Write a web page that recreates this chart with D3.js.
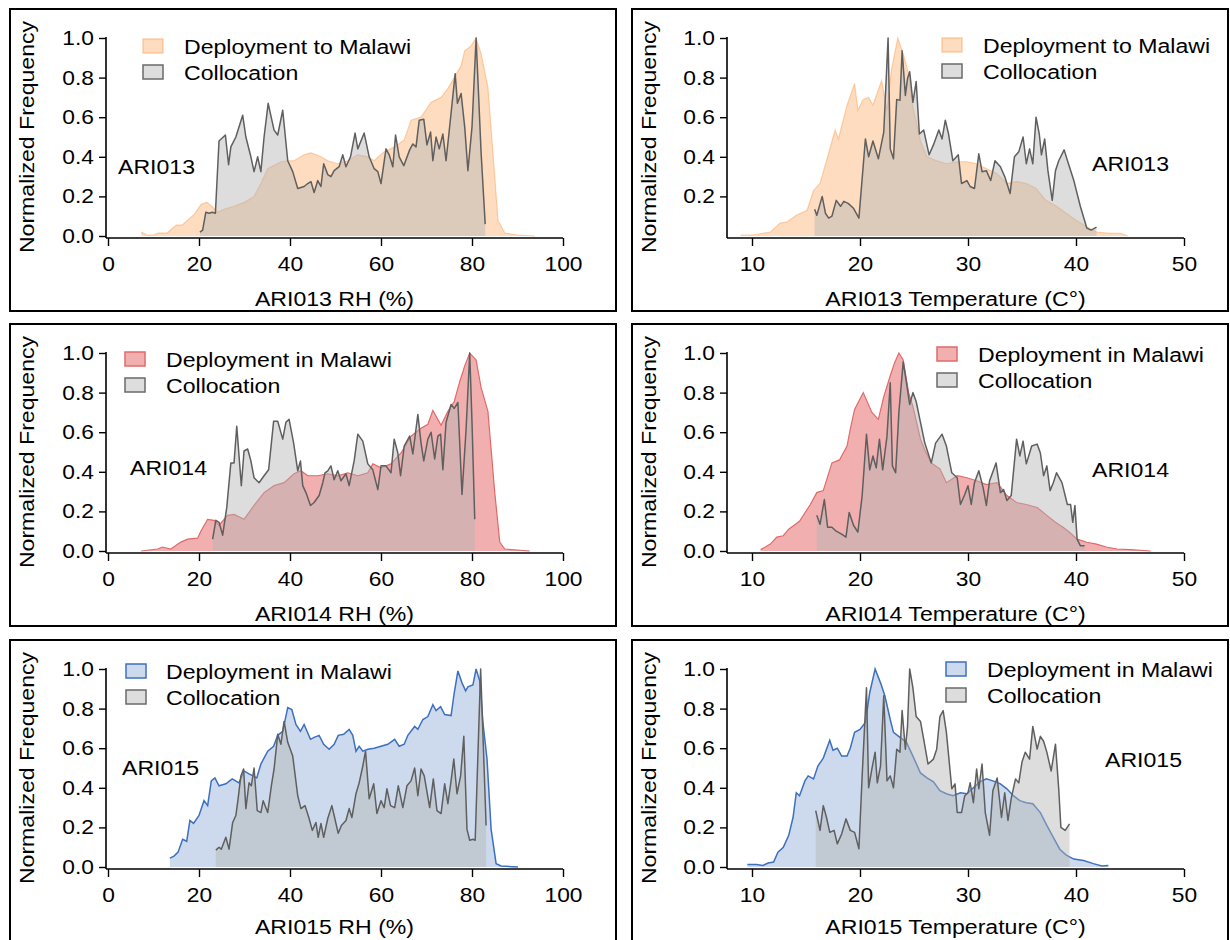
<!DOCTYPE html>
<html>
<head>
<meta charset="utf-8">
<script src="https://cdn.jsdelivr.net/npm/d3@7"></script>
<style>
  html, body { margin: 0; padding: 0; background: #fff; }
  svg text { font-family: "Liberation Sans", Arial, Helvetica, sans-serif; fill: #000; }
</style>
</head>
<body>
<svg id="chart" width="1230" height="940"></svg>
<script>
// ---- Axis ticks -----------------------------------------------------------
const rhTicks = [0, 20, 40, 60, 80, 100];
const tempTicks = [10, 20, 30, 40, 50];
const freqTicks = [0, 0.2, 0.4, 0.6, 0.8, 1.0];
const freqTicksNoZero = [0.2, 0.4, 0.6, 0.8, 1.0];

// ---- Normalized histograms: [value, normalized frequency] ----------------
// ARI013
const ari013RhDeploy = [[7.3,0.02],[8.5,0.005],[10,0.005],[11,0.015],[13,0.015],[15,0.055],[16.3,0.055],[17.5,0.08],[19,0.11],[20.5,0.16],[21.7,0.17],[22.8,0.15],[24.1,0.12],[25.5,0.135],[27.7,0.15],[30,0.17],[32.1,0.2],[33.6,0.265],[35.1,0.34],[38,0.375],[39.5,0.38],[40.9,0.38],[43.1,0.41],[44.6,0.42],[46.8,0.4],[48.3,0.38],[50.5,0.365],[52.7,0.38],[54.9,0.41],[57.1,0.4],[58.5,0.38],[60.7,0.425],[63,0.45],[65.1,0.485],[66.6,0.585],[68.8,0.6],[71,0.675],[73.2,0.7],[74.7,0.745],[76.1,0.8],[77.6,0.86],[78.4,0.935],[79.8,0.96],[80.9,1.0],[82,0.92],[83.5,0.75],[84.6,0.42],[85.7,0.08],[87.2,0.015],[90,0.005],[93.8,0.0]];
const ari013RhColloc = [[20.2,0.02],[20.8,0.03],[21.5,0.12],[22.2,0.115],[22.9,0.12],[23.6,0.115],[24.4,0.48],[25.8,0.51],[26.5,0.36],[27,0.45],[28.1,0.5],[29.6,0.61],[30.3,0.5],[31.4,0.4],[32.1,0.325],[32.9,0.4],[33.6,0.325],[34.3,0.5],[35.2,0.67],[36.5,0.535],[37.3,0.51],[38.4,0.635],[39.5,0.38],[40.6,0.325],[41.7,0.24],[43.1,0.25],[43.9,0.265],[44.6,0.275],[45.3,0.22],[46.1,0.28],[46.8,0.25],[47.4,0.365],[48.3,0.31],[49,0.3],[49.7,0.33],[50.8,0.35],[51.6,0.41],[52.3,0.35],[53.3,0.4],[54.3,0.52],[54.9,0.44],[56.3,0.52],[57.4,0.4],[58.5,0.34],[59.3,0.325],[60,0.265],[61.1,0.44],[61.8,0.41],[62.6,0.35],[63.2,0.51],[64,0.4],[65,0.355],[66.3,0.435],[67,0.465],[67.7,0.45],[68.4,0.585],[69.4,0.59],[70.1,0.46],[70.9,0.525],[71.4,0.38],[72.1,0.5],[72.8,0.44],[73.6,0.515],[74.3,0.38],[75.4,0.62],[76.3,0.82],[76.8,0.67],[77.6,0.72],[78.4,0.55],[79.1,0.33],[80,0.55],[80.9,1.0],[82,0.42],[82.9,0.06]];
const ari013TempDeploy = [[8.95,0.005],[10.1,0.005],[11.7,0.02],[12.6,0.065],[13.2,0.07],[14.1,0.105],[15.1,0.13],[15.7,0.23],[16.3,0.265],[16.9,0.38],[17.7,0.535],[18,0.49],[18.8,0.66],[19.5,0.77],[19.8,0.635],[20.3,0.69],[20.8,0.7],[21.2,0.66],[22,0.785],[22.5,0.635],[22.9,0.835],[23.5,1.0],[24,0.92],[24.5,0.82],[24.9,0.65],[25.6,0.48],[26.2,0.4],[27.1,0.38],[28,0.365],[29,0.375],[29.9,0.375],[30.8,0.365],[31.7,0.34],[32.7,0.315],[33.6,0.265],[34.5,0.275],[35.4,0.265],[36.3,0.24],[37.2,0.18],[38.2,0.15],[39.1,0.115],[40,0.08],[41,0.047],[41.9,0.02],[43.1,0.013],[44.1,0.013],[44.8,0.0]];
const ari013TempColloc = [[15.8,0.135],[16,0.105],[16.5,0.2],[16.8,0.115],[17.1,0.09],[17.4,0.1],[17.8,0.18],[18.2,0.15],[18.5,0.175],[18.9,0.165],[19.4,0.14],[19.9,0.09],[20.5,0.49],[20.8,0.4],[21.2,0.48],[21.7,0.39],[22.2,0.525],[22.6,1.0],[22.8,0.44],[23.1,0.39],[23.4,0.69],[23.7,0.685],[23.9,0.935],[24.2,0.71],[24.4,0.795],[24.6,0.83],[24.9,0.675],[25.2,0.78],[25.5,0.515],[25.9,0.535],[26.4,0.41],[26.8,0.46],[27.3,0.535],[27.6,0.49],[27.9,0.585],[28.2,0.515],[28.6,0.38],[29.1,0.41],[29.4,0.265],[29.9,0.28],[30.2,0.25],[30.6,0.24],[31,0.415],[31.3,0.325],[31.7,0.33],[32.1,0.28],[32.5,0.38],[33,0.35],[33.4,0.3],[33.9,0.215],[34.3,0.4],[34.7,0.425],[35.1,0.5],[35.4,0.365],[35.7,0.44],[36,0.365],[36.3,0.6],[36.6,0.515],[36.8,0.41],[37.1,0.49],[37.4,0.33],[37.8,0.18],[38.1,0.33],[38.4,0.38],[38.9,0.435],[39.3,0.365],[39.8,0.28],[40.4,0.15],[41,0.04],[41.4,0.03],[41.9,0.045]];

// ARI014
const ari014RhDeploy = [[7.3,0.0],[10.9,0.01],[12,0.02],[13.8,0.01],[16,0.045],[17.5,0.06],[19.7,0.065],[20.4,0.1],[21.9,0.16],[23.3,0.155],[24.4,0.13],[26.3,0.18],[27.7,0.185],[29.9,0.16],[32.1,0.23],[34.3,0.295],[36.5,0.33],[38.7,0.345],[40.9,0.39],[42.4,0.405],[43.9,0.38],[46.1,0.38],[48.3,0.39],[50.5,0.38],[52.7,0.395],[54.9,0.38],[57.1,0.395],[58.2,0.44],[60,0.42],[62.2,0.44],[64.4,0.495],[66.6,0.58],[68.8,0.62],[70.3,0.64],[71.4,0.71],[73.2,0.635],[74.7,0.705],[76.1,0.755],[77.3,0.855],[78.4,0.935],[79.5,1.0],[80.9,0.965],[82,0.825],[83.5,0.705],[85,0.295],[86.1,0.045],[87.2,0.01],[92.7,0.0]];
const ari014RhColloc = [[23,0.06],[23.7,0.155],[24.4,0.145],[25.2,0.08],[26.1,0.22],[27,0.445],[27.7,0.445],[28.3,0.63],[28.8,0.48],[29.3,0.33],[29.9,0.505],[30.7,0.515],[31.4,0.455],[32.1,0.37],[33.2,0.345],[34.3,0.38],[35.3,0.41],[36.4,0.655],[37.3,0.655],[38.4,0.565],[39.1,0.65],[39.8,0.665],[40.8,0.545],[41.7,0.405],[42.3,0.455],[42.8,0.33],[43.5,0.295],[44.5,0.23],[45.3,0.245],[46.4,0.28],[47.2,0.345],[47.7,0.395],[48.3,0.405],[49,0.43],[49.7,0.36],[50.5,0.405],[51.2,0.355],[52.3,0.39],[53,0.33],[54.1,0.455],[54.9,0.59],[56,0.555],[57.1,0.44],[58.2,0.41],[59.3,0.31],[60,0.43],[61.1,0.43],[62.2,0.395],[62.9,0.565],[63.7,0.495],[64.3,0.38],[65.1,0.53],[66.3,0.58],[67,0.49],[68.1,0.69],[68.8,0.545],[69.4,0.455],[70.3,0.565],[71,0.6],[71.8,0.465],[72.5,0.58],[73.1,0.59],[73.6,0.41],[74.3,0.65],[75.4,0.74],[76.1,0.72],[76.9,0.75],[77.8,0.285],[78.7,0.615],[79.5,1.0],[80,0.65],[80.6,0.16]];
const ari014TempDeploy = [[10.8,0.007],[11.7,0.035],[12.3,0.07],[12.9,0.077],[13.4,0.11],[14.4,0.15],[15.4,0.235],[16,0.295],[16.6,0.305],[17.4,0.445],[18.1,0.46],[18.8,0.53],[19.1,0.615],[19.5,0.715],[20.3,0.8],[21.1,0.7],[21.7,0.665],[22.2,0.78],[22.8,0.885],[23.2,0.95],[23.6,1.0],[24,0.965],[24.5,0.8],[24.9,0.73],[25.6,0.565],[26,0.51],[26.6,0.445],[27.4,0.415],[28,0.345],[29,0.38],[29.9,0.37],[30.8,0.355],[31.7,0.335],[32.7,0.345],[33.6,0.28],[34.5,0.245],[35.4,0.235],[36.4,0.22],[37.3,0.18],[38.1,0.145],[38.8,0.12],[39.4,0.095],[40.1,0.06],[41,0.044],[41.9,0.035],[42.8,0.02],[43.8,0.01],[45,0.007],[46.9,0.0]];
const ari014TempColloc = [[16,0.18],[16.3,0.135],[16.7,0.26],[17,0.12],[17.4,0.12],[17.8,0.1],[18.3,0.085],[18.7,0.07],[19,0.195],[19.4,0.13],[19.8,0.095],[20.2,0.28],[20.6,0.59],[20.9,0.41],[21.2,0.48],[21.5,0.42],[21.8,0.565],[22.1,0.41],[22.5,0.58],[22.8,0.85],[23,0.43],[23.3,0.395],[23.6,0.7],[24,0.955],[24.3,0.85],[24.6,0.74],[24.9,0.8],[25.2,0.755],[25.6,0.65],[26,0.545],[26.6,0.445],[27,0.545],[27.6,0.59],[28,0.53],[28.5,0.395],[29,0.37],[29.3,0.235],[29.7,0.285],[30,0.33],[30.3,0.235],[30.6,0.345],[31,0.405],[31.4,0.32],[31.7,0.23],[32,0.355],[32.6,0.445],[33,0.295],[33.3,0.31],[33.6,0.255],[34,0.28],[34.5,0.565],[34.8,0.48],[35.1,0.555],[35.4,0.44],[35.9,0.53],[36.4,0.54],[36.7,0.495],[37,0.38],[37.3,0.43],[37.6,0.305],[37.9,0.345],[38.2,0.395],[38.7,0.345],[39.2,0.235],[39.5,0.235],[39.7,0.145],[39.9,0.23],[40.1,0.06],[40.4,0.027],[40.8,0.027]];

// ARI015
const ari015RhDeploy = [[13.6,0.045],[14.5,0.055],[15.4,0.075],[16.4,0.14],[17.3,0.13],[18,0.235],[18.8,0.22],[20,0.26],[21.1,0.335],[21.9,0.31],[22.7,0.435],[23.5,0.45],[24.4,0.41],[25.9,0.42],[27.3,0.445],[28.8,0.425],[29.9,0.485],[31,0.47],[32.7,0.45],[33.6,0.52],[35.1,0.585],[36.4,0.61],[37.3,0.665],[38.4,0.685],[39.5,0.805],[40.4,0.795],[41.3,0.72],[42.3,0.685],[43.1,0.72],[44.5,0.645],[45.3,0.655],[46.4,0.665],[47.4,0.62],[48.6,0.595],[49.7,0.62],[50.6,0.665],[51.8,0.67],[53,0.695],[53.8,0.665],[54.5,0.585],[55.2,0.61],[56,0.585],[57.1,0.595],[58.5,0.6],[60,0.61],[61.5,0.62],[63,0.645],[64,0.61],[65.1,0.62],[65.9,0.665],[67.4,0.71],[68.1,0.695],[69.2,0.745],[70.3,0.76],[71.4,0.82],[72.1,0.79],[73.1,0.81],[74,0.77],[75.4,0.765],[76.1,0.88],[76.9,0.99],[77.8,0.93],[78.6,0.89],[79.1,0.91],[80.2,0.92],[80.9,1.0],[81.7,0.94],[82.4,0.73],[83.3,0.545],[84.2,0.19],[85.3,0.017],[86.4,0.005],[90.1,0.0]];
const ari015RhColloc = [[23.7,0.085],[24.4,0.1],[24.9,0.09],[25.9,0.15],[26.6,0.09],[27.4,0.225],[28.1,0.26],[28.6,0.345],[29.2,0.46],[29.8,0.495],[30.3,0.295],[31,0.425],[31.5,0.41],[32.1,0.5],[32.8,0.285],[33.6,0.275],[34.1,0.335],[35.1,0.275],[35.9,0.41],[36.5,0.495],[37.3,0.67],[38,0.62],[38.7,0.735],[39.5,0.63],[40.6,0.56],[41.7,0.36],[42.4,0.295],[43.3,0.31],[44.2,0.245],[44.9,0.185],[45.7,0.225],[46.2,0.15],[46.8,0.22],[47.4,0.15],[48.3,0.245],[49.2,0.31],[49.7,0.26],[50.6,0.17],[51.3,0.21],[52.3,0.235],[53,0.295],[53.6,0.25],[54.5,0.37],[55.2,0.425],[56,0.51],[56.6,0.585],[57.4,0.345],[58.4,0.42],[59.1,0.27],[60,0.335],[60.7,0.3],[61.3,0.395],[62.1,0.31],[63,0.3],[63.8,0.41],[64.8,0.3],[65.7,0.41],[66.6,0.435],[67.4,0.5],[68.1,0.36],[68.8,0.495],[69.5,0.46],[70.7,0.3],[71.5,0.445],[72.3,0.285],[73.2,0.27],[74,0.42],[74.7,0.32],[75.4,0.435],[76,0.545],[76.7,0.37],[77.5,0.46],[78.2,0.66],[78.9,0.19],[79.5,0.135],[80.2,0.14],[80.7,0.135],[81.9,1.0],[83.1,0.21]];
const ari015TempDeploy = [[9.57,0.012],[10.4,0.012],[11,0.008],[11.5,0.02],[12,0.025],[12.4,0.075],[12.9,0.1],[13.4,0.16],[13.8,0.25],[14.1,0.375],[14.4,0.36],[14.9,0.435],[15.2,0.46],[15.7,0.445],[16.1,0.51],[16.6,0.55],[17.2,0.64],[17.5,0.59],[17.9,0.6],[18.3,0.56],[18.8,0.56],[19.1,0.6],[19.5,0.68],[20,0.695],[20.5,0.73],[20.9,0.88],[21.4,1.0],[21.9,0.93],[22.3,0.865],[22.8,0.745],[23.1,0.68],[23.7,0.655],[24.3,0.63],[24.9,0.56],[25.6,0.475],[26.2,0.45],[26.8,0.43],[27.4,0.385],[28,0.37],[28.6,0.36],[29.3,0.375],[29.9,0.37],[30.5,0.4],[31.1,0.43],[31.7,0.445],[32.3,0.435],[33,0.42],[33.6,0.395],[34.2,0.36],[34.8,0.335],[35.4,0.325],[36,0.32],[36.7,0.275],[37.3,0.21],[37.9,0.15],[38.5,0.09],[39.1,0.06],[39.8,0.04],[40.7,0.033],[41.6,0.017],[42.4,0.005],[43,0.008]];
const ari015TempColloc = [[15.9,0.285],[16.3,0.185],[16.6,0.31],[16.9,0.25],[17.2,0.175],[17.6,0.185],[17.9,0.117],[18.3,0.167],[18.7,0.243],[19.1,0.185],[19.5,0.175],[19.9,0.092],[20.2,0.46],[20.6,0.905],[20.8,0.4],[21.1,0.495],[21.4,0.58],[21.6,0.425],[21.9,0.51],[22.2,0.865],[22.5,0.435],[22.8,0.46],[23.1,0.4],[23.4,0.595],[23.7,0.58],[23.9,0.79],[24.2,0.595],[24.4,0.71],[24.6,1.0],[24.9,0.905],[25.2,0.76],[25.6,0.735],[25.9,0.645],[26.3,0.52],[26.8,0.545],[27.1,0.595],[27.4,0.76],[27.7,0.79],[28,0.68],[28.5,0.395],[28.8,0.42],[29,0.275],[29.4,0.275],[29.7,0.36],[30,0.375],[30.2,0.425],[30.5,0.325],[30.8,0.495],[31,0.395],[31.3,0.52],[31.6,0.275],[32,0.16],[32.3,0.385],[32.7,0.45],[33.1,0.25],[33.4,0.375],[33.7,0.235],[34,0.345],[34.4,0.445],[34.7,0.425],[35,0.53],[35.3,0.58],[35.7,0.545],[36,0.71],[36.4,0.595],[36.7,0.66],[37,0.635],[37.3,0.58],[37.7,0.485],[38.1,0.62],[38.4,0.395],[38.6,0.2],[39,0.185],[39.4,0.218]];

// ---- Series styling --------------------------------------------------------
const styles = {
  orange: { fill: "rgba(253,172,104,0.42)", stroke: "rgba(253,170,100,0.55)", width: 1.2 },
  red:    { fill: "rgba(226,78,78,0.45)",   stroke: "#e06a6a", width: 1.2 },
  blue:   { fill: "rgba(72,118,190,0.27)",  stroke: "#3d70bf", width: 1.5 },
  gray:   { fill: "rgba(180,180,180,0.45)", stroke: "#5f5f5f", width: 1.5 }
};

const rowTops = [9, 324, 640];
const columns = [
  { x0: 10,  x1: 616,  axisX: 106, domain: [0, 100], range: [108, 563], ticks: rhTicks,   unit: "RH (%)" },
  { x0: 632, x1: 1228, axisX: 727, domain: [10, 50], range: [752, 1184], ticks: tempTicks, unit: "Temperature (C°)" }
];

const panels = [
  { row: 0, col: 0, sensor: "ARI013", deploy: ari013RhDeploy,   colloc: ari013RhColloc,   color: "orange", legend: "Deployment to Malawi", leg: [143, 30, 184], tag: [118, 165], yTicks: freqTicks },
  { row: 0, col: 1, sensor: "ARI013", deploy: ari013TempDeploy, colloc: ari013TempColloc, color: "orange", legend: "Deployment to Malawi", leg: [942, 29, 983], tag: [1092, 162], yTicks: freqTicksNoZero },
  { row: 1, col: 0, sensor: "ARI014", deploy: ari014RhDeploy,   colloc: ari014RhColloc,   color: "red",    legend: "Deployment in Malawi", leg: [125, 28, 166], tag: [130, 151], yTicks: freqTicks },
  { row: 1, col: 1, sensor: "ARI014", deploy: ari014TempDeploy, colloc: ari014TempColloc, color: "red",    legend: "Deployment in Malawi", leg: [937, 23, 978], tag: [1092, 153], yTicks: freqTicks },
  { row: 2, col: 0, sensor: "ARI015", deploy: ari015RhDeploy,   colloc: ari015RhColloc,   color: "blue",   legend: "Deployment in Malawi", leg: [126, 24, 166], tag: [122, 135], yTicks: freqTicks },
  { row: 2, col: 1, sensor: "ARI015", deploy: ari015TempDeploy, colloc: ari015TempColloc, color: "blue",   legend: "Deployment in Malawi", leg: [946, 22, 987], tag: [1105, 127], yTicks: freqTicks }
];

const svg = d3.select("#chart");
const FONT = 21, TICK_FONT = 20;
const SX = 1.1, TICK_SX = 1.14;   // horizontal glyph stretch

// Place a text label at (x, y) with a horizontal stretch.
function label(g, x, y, str, anchor) {
  return g.append("text")
    .attr("transform", `translate(${x},${y}) scale(${SX},1)`)
    .attr("text-anchor", anchor || "start")
    .attr("font-size", FONT)
    .text(str);
}

panels.forEach(p => {
  const c = columns[p.col];
  const top = rowTops[p.row];
  const g = svg.append("g");

  // Panel frame
  g.append("rect")
    .attr("x", c.x0).attr("y", top)
    .attr("width", c.x1 - c.x0).attr("height", 302)
    .attr("fill", "none").attr("stroke", "#000").attr("stroke-width", 2);

  const x = d3.scaleLinear().domain(c.domain).range(c.range);
  const y = d3.scaleLinear().domain([0, 1]).range([top + 227, top + 29]);
  const base = y(0);

  const area = d3.area().x(d => x(d[0])).y0(base).y1(d => y(d[1]));
  const line = d3.line().x(d => x(d[0])).y(d => y(d[1]));

  // Deployment distribution, then collocation on top
  const ds = styles[p.color], gs = styles.gray;
  g.append("path").datum(p.deploy).attr("d", area).attr("fill", ds.fill);
  g.append("path").datum(p.deploy).attr("d", line)
    .attr("fill", "none").attr("stroke", ds.stroke).attr("stroke-width", ds.width);
  g.append("path").datum(p.colloc).attr("d", area).attr("fill", gs.fill);
  g.append("path").datum(p.colloc).attr("d", line)
    .attr("fill", "none").attr("stroke", gs.stroke).attr("stroke-width", gs.width)
    .attr("stroke-linejoin", "round");

  // X axis
  const axisY = base + 2;
  const xAxis = g.append("g").attr("transform", `translate(0,${axisY})`)
    .call(d3.axisBottom(x).tickValues(c.ticks).tickSize(8).tickPadding(10).tickFormat(d3.format("d")));
  xAxis.select(".domain").attr("d", `M${c.axisX},0H${c.range[1]}`).attr("stroke-width", 1.6);
  xAxis.selectAll(".tick line").attr("stroke-width", 1.4);
  xAxis.selectAll(".tick text").attr("font-size", TICK_FONT).attr("dy", "0.75em")
    .attr("transform", `scale(${TICK_SX},1)`);

  // Y axis
  const yAxis = g.append("g").attr("transform", `translate(${c.axisX},0)`)
    .call(d3.axisLeft(y).tickValues(p.yTicks).tickSize(7).tickPadding(6).tickFormat(d3.format(".1f")));
  yAxis.select(".domain").attr("d", `M0,${y(1) - 1}V${axisY}`).attr("stroke-width", 1.6);
  yAxis.selectAll(".tick line").attr("stroke-width", 1.4);
  yAxis.selectAll(".tick text").attr("font-size", TICK_FONT)
    .attr("x", -12 / TICK_SX).attr("transform", `scale(${TICK_SX},1)`);

  // Axis titles (kept inside the 940px canvas on the last row)
  label(g, (c.axisX + c.range[1]) / 2, Math.min(top + 297, 934), `${p.sensor} ${c.unit}`, "middle");
  g.append("text")
    .attr("transform", `translate(${c.x0 + 24},${top + 128}) rotate(-90) scale(${SX},1)`)
    .attr("text-anchor", "middle").attr("font-size", FONT)
    .text("Normalized Frequency");

  // Sensor tag
  label(g, p.tag[0], top + p.tag[1], p.sensor);

  // Legend
  const [lx, ly, tx] = p.leg;
  const entries = [
    { label: p.legend, fill: ds.fill, stroke: ds.stroke },
    { label: "Collocation", fill: gs.fill, stroke: "#6a6a6a" }
  ];
  entries.forEach((e, i) => {
    const sy = top + ly + i * 26;
    g.append("rect").attr("x", lx).attr("y", sy).attr("width", 20).attr("height", 14)
      .attr("fill", e.fill).attr("stroke", e.stroke).attr("stroke-width", 1.5);
    label(g, tx, sy + 15, e.label);
  });
});
</script>
</body>
</html>
